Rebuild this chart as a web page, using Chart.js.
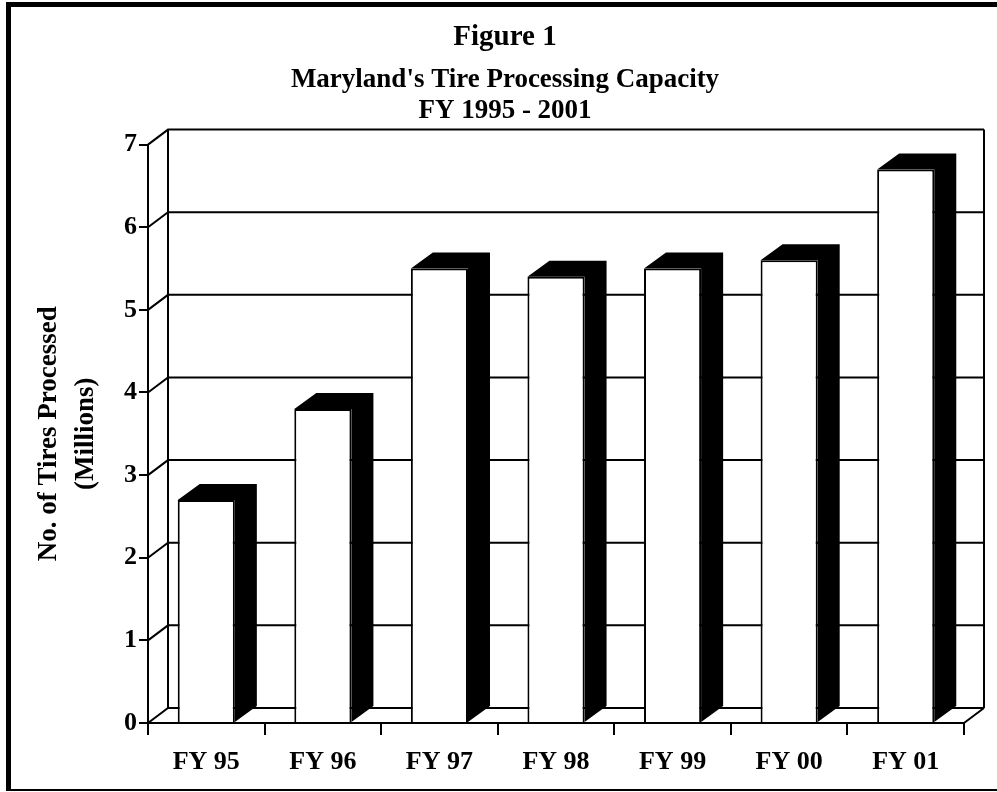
<!DOCTYPE html>
<html>
<head>
<meta charset="utf-8">
<script src="https://cdn.jsdelivr.net/npm/chart.js@4.4.1/dist/chart.umd.min.js"></script>
<style>
  html, body { margin: 0; padding: 0; background: #fff; overflow: hidden; }
  #wrap { width: 997px; height: 792px; }
</style>
</head>
<body>
<div id="wrap"><canvas id="tires"></canvas></div>
<script>
// data
const years = ['FY 95', 'FY 96', 'FY 97', 'FY 98', 'FY 99', 'FY 00', 'FY 01'];
const tiresMillions = [2.7, 3.8, 5.5, 5.4, 5.5, 5.6, 6.7];
const yTicks = [0, 1, 2, 3, 4, 5, 6, 7];

const serif = "'Liberation Serif', 'Times New Roman', serif";

// depth of the 3d box and of the bars (px)
const WALL_DX = 20, WALL_DY = 15;
const BAR_DX = 22, BAR_DY = 16;

const box3d = {
    id: 'box3d',
    beforeDraw(chart) {
        // thick frame round the figure
        const ctx = chart.ctx;
        ctx.save();
        ctx.fillStyle = '#000';
        ctx.fillRect(6, 2, 5, 789);
        ctx.fillRect(6, 2, 991, 5);
        ctx.fillRect(6, 789, 991, 2);
        ctx.restore();
    },
    beforeDatasetsDraw(chart) {
        // back wall, side wall and floor
        const { ctx, chartArea, scales } = chart;
        const { left, right, top, bottom } = chartArea;
        ctx.save();
        ctx.strokeStyle = '#000';
        ctx.lineWidth = 2;
        ctx.beginPath();
        yTicks.forEach(v => {
            const py = scales.y.getPixelForValue(v);
            ctx.moveTo(left, py);
            ctx.lineTo(left + WALL_DX, py - WALL_DY);
            ctx.lineTo(right + WALL_DX, py - WALL_DY);
        });
        ctx.moveTo(left + WALL_DX, top - WALL_DY);
        ctx.lineTo(left + WALL_DX, bottom - WALL_DY);
        ctx.moveTo(right + WALL_DX, top - WALL_DY);
        ctx.lineTo(right + WALL_DX, bottom - WALL_DY);
        ctx.moveTo(right, bottom);
        ctx.lineTo(right + WALL_DX, bottom - WALL_DY);
        ctx.stroke();
        ctx.restore();
    },
    afterDatasetsDraw(chart) {
        // black top and side of every bar
        const ctx = chart.ctx;
        ctx.save();
        ctx.fillStyle = '#000';
        chart.getDatasetMeta(0).data.forEach(bar => {
            const xL = bar.x - bar.width / 2;
            const xR = bar.x + bar.width / 2;
            const t = bar.y, b = bar.base;
            ctx.beginPath();
            ctx.moveTo(xL, t);
            ctx.lineTo(xL + BAR_DX, t - BAR_DY);
            ctx.lineTo(xR + BAR_DX, t - BAR_DY);
            ctx.lineTo(xR + BAR_DX, b - BAR_DY);
            ctx.lineTo(xR, b);
            ctx.lineTo(xR, t);
            ctx.closePath();
            ctx.fill();
        });
        ctx.restore();
    }
};

new Chart(document.getElementById('tires'), {
    type: 'bar',
    data: {
        labels: years,
        datasets: [{
            label: 'Tires processed',
            data: tiresMillions,
            backgroundColor: '#fff',
            borderColor: '#000',
            borderWidth: 2,
            barPercentage: 0.49,
            categoryPercentage: 1.0
        }]
    },
    options: {
        responsive: true,
        maintainAspectRatio: false,
        animation: false,
        layout: { padding: { left: 13, right: 0, top: 0, bottom: 0 } },
        plugins: {
            legend: { display: false },
            tooltip: { enabled: false },
            title: {
                display: true,
                text: 'Figure 1',
                color: '#000',
                font: { family: serif, size: 29, weight: 'bold', lineHeight: 1.2 },
                padding: { top: 20, bottom: 10 }
            },
            subtitle: {
                display: true,
                text: ["Maryland's Tire Processing Capacity", 'FY 1995 - 2001'],
                color: '#000',
                font: { family: serif, size: 27, weight: 'bold', lineHeight: 1.15 },
                padding: { top: 0, bottom: 17.7 }
            }
        },
        scales: {
            x: {
                offset: true,
                grid: { offset: true, drawOnChartArea: false, drawTicks: true, tickLength: 12, color: '#000', lineWidth: 2 },
                border: { display: true, color: '#000', width: 2 },
                ticks: { color: '#000', font: { family: serif, size: 26, weight: 'bold' }, padding: 12, maxRotation: 0, autoSkip: false },
                afterFit(scale) { scale.height = 69; }
            },
            y: {
                min: yTicks[0],
                max: yTicks[yTicks.length - 1],
                grid: { drawOnChartArea: false, drawTicks: true, tickLength: 9, color: '#000', lineWidth: 2 },
                border: { display: true, color: '#000', width: 2 },
                ticks: { stepSize: 1, color: '#000', font: { family: serif, size: 26, weight: 'bold' }, padding: 2 },
                title: {
                    display: true,
                    text: ['No. of Tires Processed', '(Millions)'],
                    color: '#000',
                    font: { family: serif, size: 27, weight: 'bold', lineHeight: 1.38 },
                    padding: { top: 17, bottom: 0 }
                },
                afterFit(scale) { scale.width = 135; }
            },
            // empty strip on the right so the titles stay centred on the whole figure
            yRight: {
                position: 'right',
                grid: { display: false },
                border: { display: false },
                ticks: { display: false },
                afterFit(scale) { scale.width = 33; }
            }
        }
    },
    plugins: [box3d]
});
</script>
</body>
</html>
